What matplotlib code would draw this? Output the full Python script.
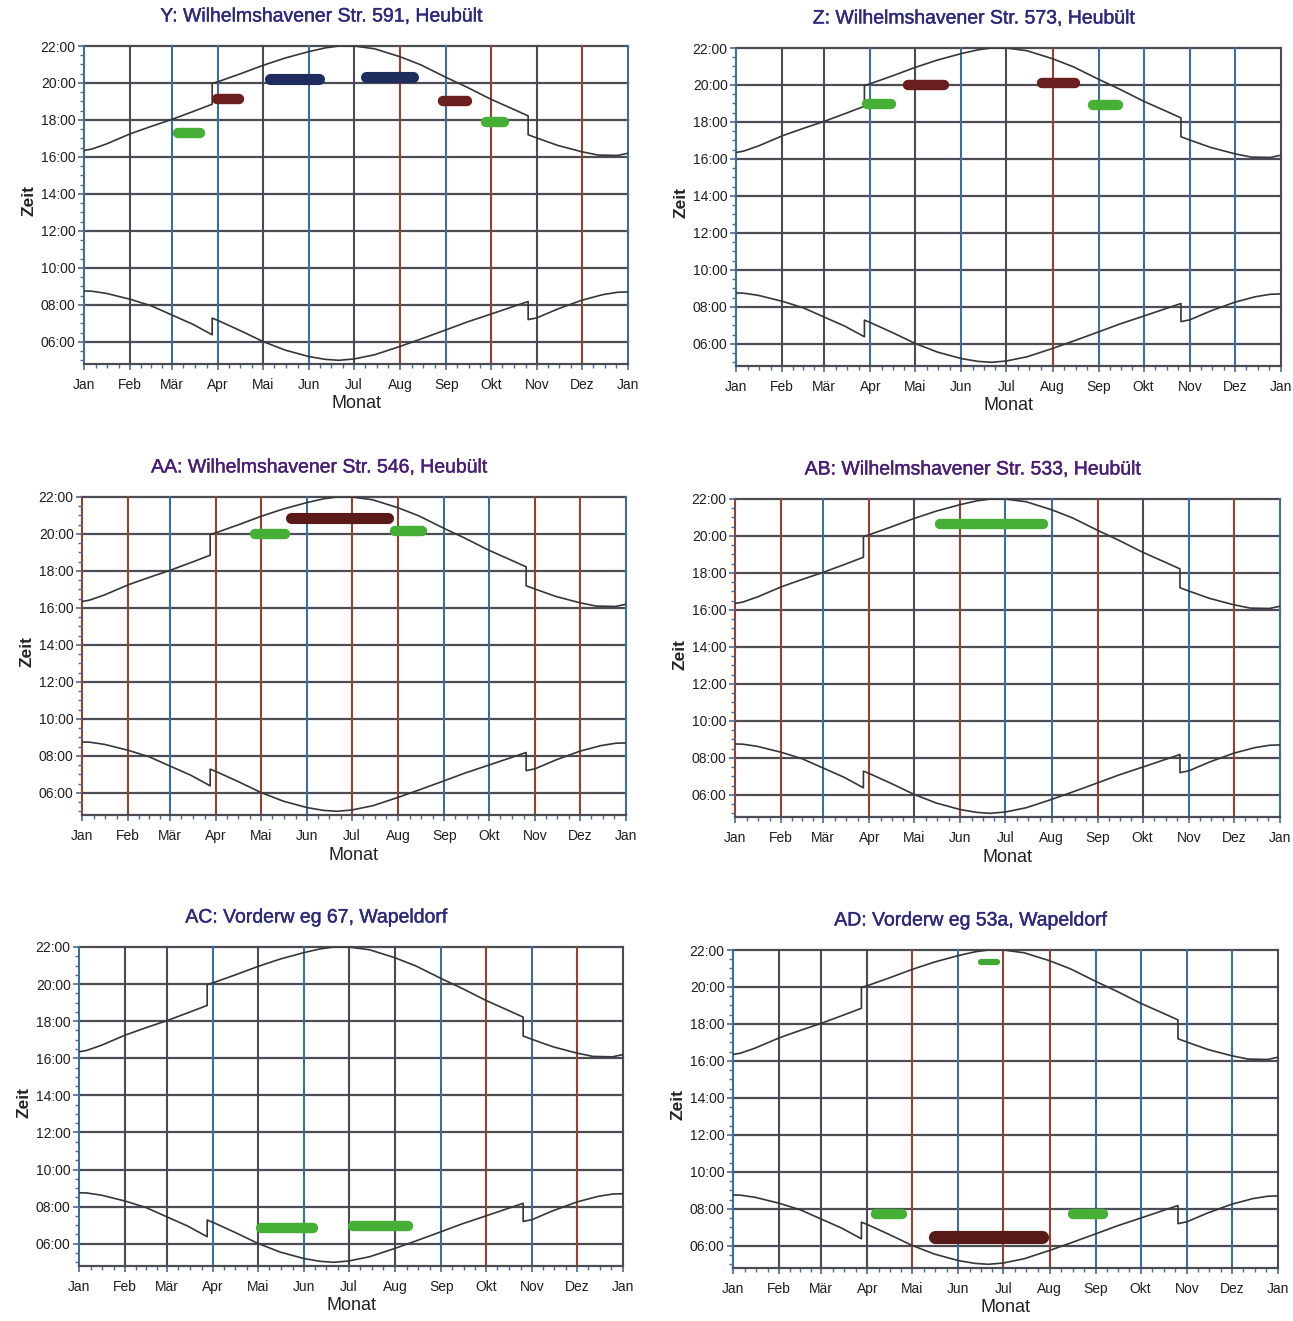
import matplotlib
matplotlib.use("Agg")
import matplotlib.pyplot as plt
import matplotlib.patheffects as pe
from matplotlib.ticker import FixedLocator, MultipleLocator, FuncFormatter

plt.rcParams["font.family"] = ["Liberation Sans", "DejaVu Sans"]

# --- data -----------------------------------------------------------------
MONTHS = ["Jan", "Feb", "Mär", "Apr", "Mai", "Jun", "Jul",
          "Aug", "Sep", "Okt", "Nov", "Dez", "Jan"]
MONTH_DAYS = [0, 31, 59, 90, 120, 151, 181, 212, 243, 273, 304, 334, 365]
HOUR_TICKS = [6, 8, 10, 12, 14, 16, 18, 20, 22]

# sunset / sunrise (local time, hours)
SUNSET_DAY = [0, 5, 15, 31, 45, 59, 73, 86, 86, 90, 105, 120, 135, 151, 162,
              171, 181, 195, 212, 226, 243, 257, 273, 287, 298, 298, 304,
              318, 334, 345, 358, 365]
SUNSET_H = [16.35, 16.42, 16.7, 17.25, 17.65, 18.03, 18.45, 18.85, 19.97,
            20.07, 20.5, 20.95, 21.35, 21.7, 21.9, 22.0, 22.0, 21.85, 21.42,
            20.98, 20.3, 19.77, 19.12, 18.62, 18.22, 17.2, 17.02, 16.62,
            16.28, 16.1, 16.08, 16.2]
SUNRISE_DAY = [0, 5, 15, 31, 45, 59, 73, 86, 86, 90, 105, 120, 135, 151, 162,
               171, 181, 195, 212, 226, 243, 257, 273, 287, 298, 298, 304,
               318, 334, 348, 358, 365]
SUNRISE_H = [8.75, 8.74, 8.62, 8.3, 7.95, 7.45, 6.95, 6.38, 7.28, 7.15, 6.6,
             6.02, 5.55, 5.2, 5.05, 5.0, 5.07, 5.3, 5.75, 6.15, 6.65, 7.07,
             7.5, 7.88, 8.18, 7.2, 7.3, 7.78, 8.25, 8.55, 8.68, 8.7]

TITLES = ["Y: Wilhelmshavener Str. 591, Heubült",
          "Z: Wilhelmshavener Str. 573, Heubült",
          "AA: Wilhelmshavener Str. 546, Heubült",
          "AB: Wilhelmshavener Str. 533, Heubült",
          "AC: Vorderw eg 67, Wapeldorf",
          "AD: Vorderw eg 53a, Wapeldorf"]

# shadow periods: start day, end day, time (h), kind
SHADOW_Y = [(63, 78, 17.3, "gruen"), (89, 104, 19.15, "rot"),
            (125, 158, 20.2, "blau"), (189, 221, 20.3, "blau"),
            (241, 257, 19.05, "rot"), (270, 282, 17.9, "gruen")]
SHADOW_Z = [(88, 104, 18.95, "gruen"), (115, 139, 20.0, "rot"),
            (205, 227, 20.1, "rot"), (239, 256, 18.9, "gruen")]
SHADOW_AA = [(116, 136, 20.0, "gruen"), (140, 205, 20.85, "braun"),
             (210, 228, 20.15, "gruen")]
SHADOW_AB = [(137, 206, 20.65, "gruen")]
SHADOW_AC = [(122, 157, 6.85, "gruen"), (184, 221, 6.95, "gruen")]
SHADOW_AD = [(166, 177, 21.35, "gruen_schmal"), (96, 113, 7.7, "gruen"),
             (135, 207, 6.48, "braun_dick"), (228, 248, 7.7, "gruen")]
SHADOWS = [SHADOW_Y, SHADOW_Z, SHADOW_AA, SHADOW_AB, SHADOW_AC, SHADOW_AD]

# --- style ----------------------------------------------------------------
KIND_STYLE = {"gruen": ("#45b035", 7.5), "gruen_schmal": ("#3fa832", 4.5),
              "rot": ("#6b1e1e", 7.5), "blau": ("#1f2c5e", 8),
              "braun": ("#5a1a18", 8), "braun_dick": ("#561b17", 9.5)}
LC = {"d": "#4a4a50", "b": "#3b6f9f", "r": "#94412f"}
VLINE_COLS = ["bdbbdbdrbrdrb", "bddbdbdrbbbbd", "rrbrrbrrbbrrb",
              "rrbrdrbbrdbrb", "bddbdbddbrbrd", "bdddrbrrbbbbd"]
TITLE_COLS = ["#2d2a7e", "#2d2a7e", "#4a1d78", "#4a1d78", "#2d2a7e", "#2d2a7e"]
# axes boxes in pixels: left, top, right, bottom
BOXES = [(84, 46, 628, 364), (736, 48, 1281, 366), (82, 497, 626, 815),
         (735, 499, 1280, 817), (79, 947, 623, 1266), (733, 950, 1278, 1268)]

W, H = 1293, 1321
fig = plt.figure(figsize=(W / 100, H / 100), dpi=100)
fig.patch.set_facecolor("white")

minor_x = []
for a, b in zip(MONTH_DAYS[:-1], MONTH_DAYS[1:]):
    minor_x += [a + (b - a) * k / 4 for k in (1, 2, 3)]

for i, (l, t, r, b) in enumerate(BOXES):
    ax = fig.add_axes([l / W, 1 - b / H, (r - l) / W, (b - t) / H])
    ax.set_xlim(0, 365)
    ax.set_ylim(4.8, 22.0)
    for s in ax.spines.values():
        s.set_visible(False)
    ax.spines["bottom"].set_visible(True)
    ax.spines["bottom"].set_color("#4c4c52")
    ax.spines["bottom"].set_linewidth(1.6)

    for hh in HOUR_TICKS:
        ax.axhline(hh, color="#4c4c55", lw=1.6, zorder=1, clip_on=False)
    for d, c in zip(MONTH_DAYS, VLINE_COLS[i]):
        ax.axvline(d, color=LC[c], lw=1.5, zorder=1, clip_on=False)

    ax.plot(SUNSET_DAY, SUNSET_H, color="#36363a", lw=1.2, zorder=3)
    ax.plot(SUNRISE_DAY, SUNRISE_H, color="#36363a", lw=1.2, zorder=3)

    for s0, s1, hh, kind in SHADOWS[i]:
        col, lw = KIND_STYLE[kind]
        ax.plot([s0, s1], [hh, hh], color=col, lw=lw,
                solid_capstyle="round", zorder=4)

    ax.xaxis.set_major_locator(FixedLocator(MONTH_DAYS))
    ax.xaxis.set_minor_locator(FixedLocator(minor_x))
    ax.set_xticklabels(MONTHS)
    ax.yaxis.set_major_locator(FixedLocator(HOUR_TICKS))
    ax.yaxis.set_minor_locator(MultipleLocator(0.5))
    ax.yaxis.set_major_formatter(FuncFormatter(lambda v, p: f"{int(v):02d}:00"))
    ax.tick_params(axis="both", which="major", length=4, width=1.2,
                   color="#4a6a9a", labelsize=10, labelcolor="#1e1e1e")
    ax.tick_params(axis="both", which="minor", length=3, width=1.0,
                   color="#4a6a9a")
    ax.tick_params(axis="x", which="major", pad=6)
    ax.tick_params(axis="y", which="major", pad=2)

    cx = (l + r) / 2
    fig.text(cx / W, 1 - (b + 40) / H, "Monat", ha="center", va="center",
             fontsize=13, color="#222222")
    fig.text(27 / W + (l - 82) / W, 1 - ((t + b) / 2 - 4) / H, "Zeit",
             rotation=90, ha="center", va="center", fontsize=12.5,
             fontweight="bold", color="#222222")
    tx = (l - 68 + r) / 2
    fig.text(tx / W, 1 - (t - 29) / H, TITLES[i], ha="center", va="center",
             fontsize=14, color=TITLE_COLS[i],
             path_effects=[pe.withStroke(linewidth=0.3,
                                         foreground=TITLE_COLS[i])])

fig.savefig("out.png", dpi=100, facecolor="white")
